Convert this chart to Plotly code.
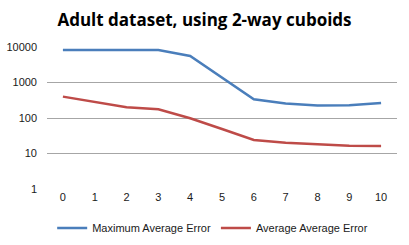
import plotly.graph_objects as go

categories = [0, 1, 2, 3, 4, 5, 6, 7, 8, 9, 10]
max_avg_error = [8200, 8200, 8200, 8200, 5600, 1400, 336, 258, 225, 230, 263]
avg_avg_error = [400, 288, 200, 176, 98, 49, 24, 20, 18, 16.6, 16.3]
y_ticks = [1, 10, 100, 1000, 10000]

fig = go.Figure()
fig.add_trace(go.Scatter(x=categories, y=max_avg_error, mode="lines",
                         name="Maximum Average Error",
                         line=dict(color="#4A7EBB", width=2.5)))
fig.add_trace(go.Scatter(x=categories, y=avg_avg_error, mode="lines",
                         name="Average Average Error",
                         line=dict(color="#BE4B48", width=2.5)))

fig.update_layout(
    width=409, height=245,
    margin=dict(l=47, r=12, t=47, b=56, autoexpand=False),
    paper_bgcolor="white", plot_bgcolor="white",
    font=dict(family="Liberation Sans, Arial, sans-serif", size=11, color="#1a1a1a"),
    title=dict(text="<b>Adult dataset, using 2-way cuboids</b>",
               x=0.5, xref="container", xanchor="center",
               y=1 - 20 / 245, yanchor="middle",
               font=dict(family="Open Sans, sans-serif", size=17, color="black")),
    xaxis=dict(type="linear", range=[-0.5, 10.5], tickmode="array",
               tickvals=categories, ticktext=[str(c) for c in categories],
               showgrid=False, zeroline=False, showline=False, ticks="",
               automargin=False,
               tickfont=dict(size=11, color="#1a1a1a")),
    yaxis=dict(type="log", range=[0, 4], tickmode="array",
               tickvals=y_ticks, ticktext=[str(v) for v in y_ticks],
               showgrid=True, gridcolor="#A6A6A6", gridwidth=1,
               zeroline=False, showline=False, ticks="", ticklabelstandoff=9,
               automargin=False,
               tickfont=dict(size=11, color="#1a1a1a")),
    legend=dict(orientation="h", x=0.52, xref="container", xanchor="center",
                y=1 - 228 / 245, yref="container", yanchor="middle",
                font=dict(size=11, color="#1a1a1a"),
                itemwidth=30, tracegroupgap=0),
    showlegend=True,
)

fig.write_html("out.html", config={"displayModeBar": False},
               post_script="document.body.style.margin='0';document.body.style.overflow='hidden';")
